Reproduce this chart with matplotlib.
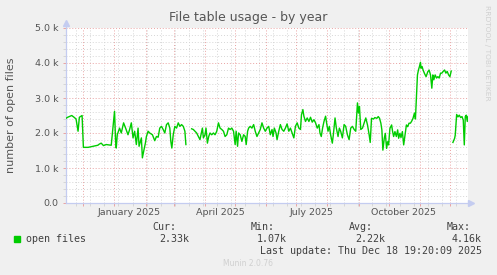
"""Munin style yearly chart: file table usage."""

from datetime import datetime, timedelta

import numpy as np
import pandas as pd
import matplotlib

matplotlib.use("Agg")
import matplotlib.pyplot as plt
import matplotlib.dates as mdates


BG = "#F0F0F0"
GREEN = "#00CC00"
TEXT = "#555555"
LEGEND_TEXT = "#404040"
MAJOR = "#E9A3A3"
MINOR = "#D6D6D6"
AXIS = "#C4CCF0"
FAINT = "#D0D0D0"

END = datetime(2025, 12, 18, 19, 20, 9)
SPAN_DAYS = 400

# day offset from start of the 400 day window, and open file counts
DAY = [
    0, 1.7, 5.7, 8, 10, 12, 13.3, 16, 17.3, 22, 26.7, 31.7, 33, 35, 37.3, 40, 45,
    46.7, 48.3, 49.3, 50, 51, 53.3, 55, 57.3, 59.3, 61.7, 63.3, 65, 66.7, 68.3,
    70, 71.7, 72.7, 75, 76, 77.3, 79, 80, 81.7, 83.3, 86, 88.3, 90, 91.7, 93.3,
    95, 96.7, 98.3, 100, 101.7, 103.3, 104.3, 105.3, 106.7, 108.3, 110, 111.7,
    113.3, 115, 116.7, 118.3, 119.3, 122, 125, 126.7, 128.3, 130, 131.7, 133.3,
    134.3, 135.7, 136.7, 138.3, 139.3, 140.7, 142, 143.3, 145, 146.7, 148.3, 150,
    151.7, 153.3, 155, 156.7, 158.3, 160, 161.7, 163.3, 165, 166.7, 168.3, 169.3,
    170.7, 171.7, 173.3, 175, 176.7, 178.3, 179.3, 180.7, 181.7, 183.3, 185,
    186.7, 188.3, 190, 191.7, 193.3, 195, 196.7, 198.3, 200, 201.7, 203.3, 205,
    206, 207.3, 209, 210, 211.7, 213.3, 215, 216.7, 218.3, 220, 221.7, 223.3,
    225, 226.7, 228.3, 230, 231.7, 233.3, 234.3, 235.7, 236.7, 238.3, 240, 241.7,
    243.3, 245, 246.7, 248.3, 250, 251.7, 252.7, 254, 255.3, 256.7, 258.3, 259.3,
    260.7, 262, 263.3, 265, 266, 267.7, 269, 270.7, 272, 273.3, 275, 276.7,
    278.3, 280, 281.7, 283.3, 285, 286.7, 288.3, 289.3, 290, 291, 292, 293.3,
    295, 296.7, 298.3, 300, 301.7, 302.7, 304, 306, 307.3, 309.3, 310.7, 312,
    313.3, 314.3, 315.3, 316.7, 317.7, 319, 320, 321, 322.3, 324, 325, 326,
    327.3, 328.7, 330, 331, 332.3, 333.3, 334.7, 336, 337.3, 338.7, 340, 341.3,
    342.7, 344, 345.3, 346.7, 347.7, 348.7, 349.7, 350.7, 351.7, 352.7, 353.3,
    354.3, 355.3, 356.7, 358.3, 360, 361.3, 362.7, 364, 365, 366, 367.3, 368.7,
    370, 371.3, 372.7, 374, 375.3, 376.7, 378, 379.3, 380.7, 382, 383.3, 384,
    385, 386.7, 387.3, 388.7, 390, 391.3, 392.7, 394, 395.3, 396.3, 397.3, 398.3,
    399.3, 400,
]
OPEN_FILES = [
    2420, 2450, 2500, 2450, 2400, 2050, 2450, 2500, 1590, 1590, 1620, 1650, 1680,
    1710, 1640, 1670, 1650, 2140, 2620, 1800, 1570, 1950, 2140, 2000, 2290, 2140,
    1950, 2100, 2290, 1860, 2050, 1670, 2140, 1620, 1860, 1290, 1480, 1710, 1900,
    2050, 2000, 1950, 1780, 1900, 1880, 2140, 2190, 2100, 2000, 2240, 2290, 2140,
    1760, 1570, 1950, 2190, 2140, 2290, 2190, 2240, 2190, 2050, 1670, np.nan,
    2120, 2100, 2050, 2000, 1900, 1810, 1950, 2140, 1860, 1950, 2140, 1710, 1900,
    2000, 1950, 2000, 1950, 2050, 2290, 2140, 2100, 2050, 1900, 1950, 2140, 2100,
    2140, 2050, 1670, 2050, 1620, 2000, 1950, 1760, 1950, 1900, 1670, 2050, 2140,
    2190, 2140, 2240, 2050, 1900, 2000, 2100, 2290, 2140, 2050, 2140, 2190, 1950,
    2100, 1900, 2140, 2000, 1810, 2050, 2240, 2100, 2050, 2140, 2260, 2050, 2140,
    2000, 1860, 2190, 2290, 2140, 2100, 2520, 2670, 2480, 2330, 2430, 2330, 2450,
    2310, 2380, 2290, 2140, 2240, 2000, 1900, 2140, 2330, 2480, 2290, 2050, 2190,
    1950, 1710, 1950, 2430, 2140, 1900, 2140, 2050, 1860, 2240, 2190, 1950, 1810,
    2140, 2190, 2100, 2050, 2520, 2860, 2570, 2760, 2100, 2140, 2290, 2430, 2230,
    1940, 1730, 2420, 2400, 2440, 2420, 2470, 2420, 2280, 2090, 1510, 1850, 1990,
    1560, 1750, 1660, 2130, 2230, 2040, 1900, 2040, 1900, 2090, 1850, 1990, 1870,
    2040, 1660, 1940, 2230, 2180, 2280, 2280, 2340, 2420, 2570, 2400, 3000, 3660,
    3800, 3900, 4020, 3850, 3900, 3800, 3700, 3610, 3750, 3800, 3660, 3280, 3660,
    3520, 3660, 3570, 3610, 3570, 3710, 3710, 3760, 3800, 3710, 3760, 3660, 3610,
    3770, np.nan, 1730, 1850, 1940, 2530, 2460, 2510, 2440, 2470, 2370, 1660,
    2470, 2510, 2330, 2470,
]

Y_TICKS = [0, 1000, 2000, 3000, 4000, 5000]
Y_LABELS = ["0.0", "1.0 k", "2.0 k", "3.0 k", "4.0 k", "5.0 k"]
X_LABELS = ["January 2025", "April 2025", "July 2025", "October 2025"]
X_LABEL_DATES = ["2025-01-16", "2025-04-16", "2025-07-16", "2025-10-16"]

STATS = [("Cur:", "2.33k"), ("Min:", "1.07k"), ("Avg:", "2.22k"), ("Max:", "4.16k")]


def px(x, y):
    # pixel position -> figure fraction
    return x / 497, 1 - y / 275


def main() -> None:
    fig = plt.figure(figsize=(4.97, 2.75), dpi=100)
    fig.patch.set_facecolor(BG)
    ax = fig.add_axes([66 / 497, 1 - 203 / 275, 402 / 497, 175 / 275])
    ax.set_facecolor("#FFFFFF")

    start = END - timedelta(days=SPAN_DAYS)
    dates = [start + timedelta(days=d) for d in DAY]
    ax.plot(dates, OPEN_FILES, color=GREEN, linewidth=1.0, zorder=3)

    ax.set_xlim(start, END)
    ax.set_ylim(0, 5000)

    # grid: months (red) and fortnights (gray), 1k (red) and 200 (gray)
    ax.xaxis.set_major_locator(mdates.MonthLocator())
    minor_dates = pd.date_range("2024-11-24", END, freq="14D").to_pydatetime()
    ax.set_xticks(minor_dates, minor=True)
    ax.set_xticklabels([])
    ax.set_yticks(Y_TICKS)
    ax.set_yticklabels(Y_LABELS)
    ax.set_yticks(np.arange(0, 5001, 200), minor=True)

    dot = (0, (1, 2))
    ax.grid(which="minor", color=MINOR, linestyle=dot, linewidth=0.7, zorder=0)
    ax.grid(which="major", color=MAJOR, linestyle=dot, linewidth=0.7, zorder=1)
    ax.set_axisbelow(True)

    ax.tick_params(which="major", length=2.5, width=0.7, color=MAJOR,
                   labelsize=6.8, labelcolor=TEXT, pad=3)
    ax.tick_params(which="minor", length=2, width=0.7, color=MINOR)
    for spine in ax.spines.values():
        spine.set_visible(False)

    # axis lines with arrowheads
    ax.plot([0, 0], [0, 1.03], transform=ax.transAxes, color=AXIS, lw=0.9, clip_on=False)
    ax.plot([0, 1.008], [0, 0], transform=ax.transAxes, color=AXIS, lw=0.9, clip_on=False)
    ax.plot([0], [1.03], marker="^", ms=4, color=AXIS, transform=ax.transAxes, clip_on=False)
    ax.plot([1.008], [0], marker=">", ms=4, color=AXIS, transform=ax.transAxes, clip_on=False)

    for label, when in zip(X_LABELS, X_LABEL_DATES):
        ax.text(pd.Timestamp(when), -0.052, label, transform=ax.get_xaxis_transform(),
                ha="center", va="center", fontsize=6.8, color=TEXT)

    fig.text(*px(248, 18), "File table usage - by year", ha="center", va="center",
             fontsize=9, color=TEXT)
    fig.text(*px(11, 115), "number of open files", rotation=90, ha="center",
             va="center", fontsize=8, color=TEXT)
    fig.text(*px(487, 53), "RRDTOOL / TOBI OETIKER", rotation=270, ha="center",
             va="center", fontsize=5.4, color=FAINT)

    mono = {"family": "DejaVu Sans Mono", "fontsize": 7.2, "color": LEGEND_TEXT}
    fig.patches.append(plt.Rectangle(px(14, 242), 6 / 497, 6 / 275, color=GREEN,
                                     transform=fig.transFigure, figure=fig))
    fig.text(*px(26, 239.5), "open files", ha="left", va="center", **mono)
    head_right = [176.5, 275, 373, 471]
    value_right = [189, 287, 385, 482]
    for (name, value), hx, vx in zip(STATS, head_right, value_right):
        fig.text(*px(hx, 227), name, ha="right", va="center", **mono)
        fig.text(*px(vx, 239.5), value, ha="right", va="center", **mono)
    fig.text(*px(482, 250.5), "Last update: Thu Dec 18 19:20:09 2025", ha="right",
             va="center", **mono)
    fig.text(*px(248, 264), "Munin 2.0.76", ha="center", va="center",
             fontsize=5.5, color=FAINT)

    fig.savefig("out.png", dpi=100, facecolor=BG)
    plt.close(fig)


if __name__ == "__main__":
    main()
